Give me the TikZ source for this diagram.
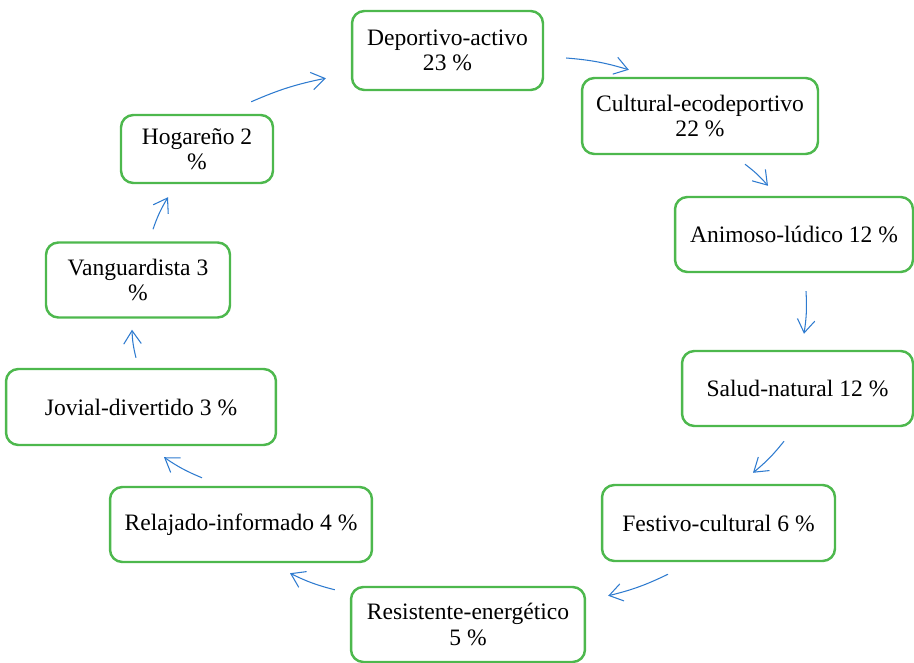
\documentclass[tikz,border=0pt]{standalone}
\usepackage{fontspec}
\setmainfont{Liberation Serif}
\usetikzlibrary{arrows.meta}
\definecolor{boxgreen}{HTML}{4DB84D}
\definecolor{arrowblue}{HTML}{2E7BCF}

\begin{document}
\begin{tikzpicture}[x=0.02cm, y=-0.02cm,
    box/.style={draw=boxgreen, line width=1.4pt, rounded corners=7pt, align=center,
      inner sep=0pt, font=\fontsize{13.4}{14.4}\selectfont},
    flow/.style={-{Straight Barb[length=7.5pt,width=10pt]}, arrowblue, line width=0.6pt, bend left=6}]
      \useasboundingbox (0,0) rectangle (914,663);

      \node[box, minimum width=3.82cm, minimum height=1.58cm] (dep) at (447.5,50.5) {Deportivo-activo\\23 \%};
      \node[box, minimum width=4.72cm, minimum height=1.52cm] (cul) at (700,116) {Cultural-ecodeportivo\\22 \%};
      \node[box, minimum width=4.76cm, minimum height=1.5cm] (ani) at (794,234.5) {Animoso-lúdico 12 \%};
      \node[box, minimum width=4.62cm, minimum height=1.5cm] (sal) at (797.5,388.5) {Salud-natural 12 \%};
      \node[box, minimum width=4.66cm, minimum height=1.52cm] (fes) at (718.5,523) {Festivo-cultural 6 \%};
      \node[box, minimum width=4.68cm, minimum height=1.5cm] (res) at (468,624.5) {Resistente-energético\\5 \%};
      \node[box, minimum width=5.24cm, minimum height=1.5cm] (rel) at (241,524.5) {Relajado-informado 4 \%};
      \node[box, minimum width=5.4cm, minimum height=1.52cm] (jov) at (141,407) {Jovial-divertido 3 \%};
      \node[box, minimum width=3.68cm, minimum height=1.5cm] (van) at (138,280) {Vanguardista 3\\\%};
      \node[box, minimum width=3.04cm, minimum height=1.36cm] (hog) at (197,149) {Hogareño 2\\\%};

      % arrows round the circle
      \draw[flow] ([shift={(-23,-12)}]hog.north east) to ([shift={(-25,-13)}]dep.south west);
      \draw[flow] ([shift={(22,7.5)}]dep.east) to ([shift={(48,-7)}]cul.north west);
      \draw[flow] ([shift={(45,9)}]cul.south) to ([shift={(-26,-10)}]ani.north);
      \draw[flow] ([shift={(12,18)}]ani.south) to ([shift={(6.5,-16)}]sal.north);
      \draw[flow] ([shift={(-13.5,14)}]sal.south) to ([shift={(34.5,-11)}]fes.north);
      \draw[flow] ([shift={(-50.5,12)}]fes.south) to ([shift={(22,10)}]res.north east);
      \draw[flow] ([shift={(-15,4)}]res.north west) to ([shift={(49,10)}]rel.south);
      \draw[flow] ([shift={(-39,-8)}]rel.north) to ([shift={(23,11)}]jov.south);
      \draw[flow] ([shift={(-5,-10)}]jov.north) to ([shift={(-6,11)}]van.south);
      \draw[flow] ([shift={(15,-12)}]van.north) to ([shift={(-29,13)}]hog.south);
\end{tikzpicture}
\end{document}
